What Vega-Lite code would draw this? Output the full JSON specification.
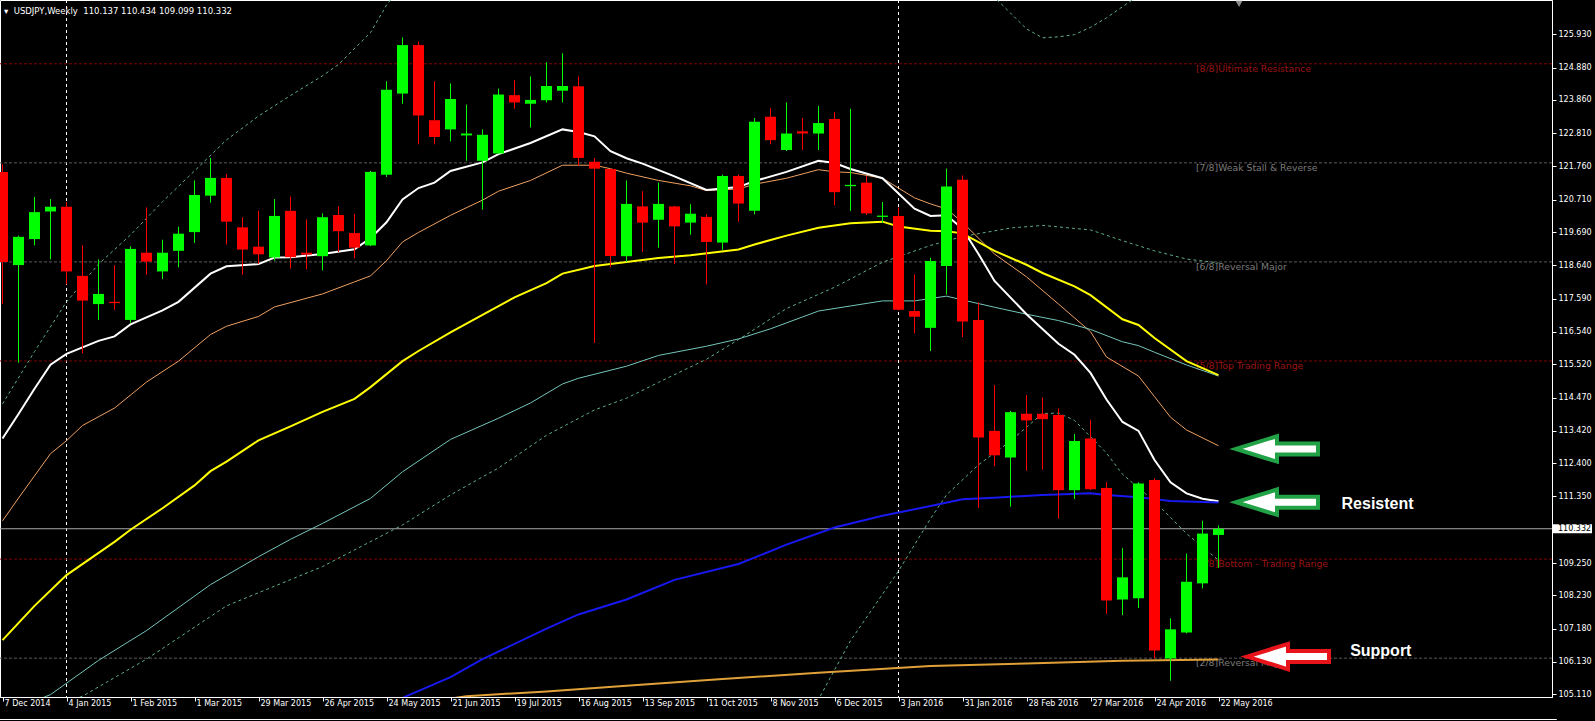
{
"$schema": "https://vega.github.io/schema/vega-lite/v6.json",
"width": 1552, "height": 697,
"autosize": {"type": "none"},
"padding": {"left": 0, "top": 0, "right": 43, "bottom": 24},
"background": "#000000",
"view": {"stroke": "#ffffff", "strokeWidth": 1, "fill": "#000000"},
"title": {"text": "▾\u00a0\u00a0USDJPY,Weekly\u00a0\u00a0110.137 110.434 109.099 110.332", "anchor": "start", "orient": "top", "frame": "group", "offset": -16, "dx": 4, "font": "DejaVu Sans", "fontSize": 8.5, "fontWeight": "normal", "color": "#ffffff", "baseline": "top"},
"config": {
  "axis": {"grid": false, "labelColor": "#ffffff", "labelFont": "DejaVu Sans", "labelFontSize": 8, "domainColor": "#ffffff", "tickColor": "#ffffff", "tickSize": 4, "labelOverlap": false, "labelBound": false, "labelFlush": false},
  "text": {"font": "DejaVu Sans"}
},
"encoding": {
  "x": {"field": "d", "type": "temporal", "title": null,
    "scale": {"type": "utc", "domain": [{"year":2014,"month":12,"date":5,"hours":21,"minutes":45,"utc":true},{"year":2016,"month":10,"date":14,"hours":21,"minutes":45,"utc":true}], "nice": false, "padding": 0},
    "axis": {"orient": "bottom", "title": null, "format": "%-d %b %Y", "labelAlign": "left", "labelOffset": 1.5, "labelPadding": -2, "tickSize": 4, "labelBaseline": "top",
      "values": [{"year":2014,"month":12,"date":7,"utc":true},{"year":2015,"month":1,"date":4,"utc":true},{"year":2015,"month":2,"date":1,"utc":true},{"year":2015,"month":3,"date":1,"utc":true},{"year":2015,"month":3,"date":29,"utc":true},{"year":2015,"month":4,"date":26,"utc":true},{"year":2015,"month":5,"date":24,"utc":true},{"year":2015,"month":6,"date":21,"utc":true},{"year":2015,"month":7,"date":19,"utc":true},{"year":2015,"month":8,"date":16,"utc":true},{"year":2015,"month":9,"date":13,"utc":true},{"year":2015,"month":10,"date":11,"utc":true},{"year":2015,"month":11,"date":8,"utc":true},{"year":2015,"month":12,"date":6,"utc":true},{"year":2016,"month":1,"date":3,"utc":true},{"year":2016,"month":1,"date":31,"utc":true},{"year":2016,"month":2,"date":28,"utc":true},{"year":2016,"month":3,"date":27,"utc":true},{"year":2016,"month":4,"date":24,"utc":true},{"year":2016,"month":5,"date":22,"utc":true}]}},
  "y": {"field": "p", "type": "quantitative", "title": null,
    "scale": {"domain": [105.025, 127.012], "zero": false, "nice": false},
    "axis": {"orient": "right", "title": null, "format": ".3f", "labelAlign": "left", "labelBaseline": "middle", "labelPadding": 2, "tickSize": 4,
      "values": [125.93, 124.88, 123.86, 122.81, 121.76, 120.71, 119.69, 118.64, 117.59, 116.54, 115.52, 114.47, 113.42, 112.4, 111.35, 109.25, 108.23, 107.18, 106.13, 105.11]}}
},
"datasets": {
  "seps": [{"d": "2015-01-04"}, {"d": "2016-01-03"}],
  "murrey": [
    {"p": 125.0, "k": "r", "name": "[8/8]Ultimate Resistance", "d": "2016-05-12T03:00:00Z"},
    {"p": 121.875, "k": "g", "name": "[7/8]Weak Stall & Reverse", "d": "2016-05-12T03:00:00Z"},
    {"p": 118.75, "k": "g", "name": "[6/8]Reversal Major", "d": "2016-05-12T03:00:00Z"},
    {"p": 115.625, "k": "r", "name": "[5/8]Top Trading Range", "d": "2016-05-12T03:00:00Z"},
    {"p": 109.375, "k": "r", "name": "[3/8]Bottom - Trading Range", "d": "2016-05-12T03:00:00Z"},
    {"p": 106.25, "k": "g", "name": "[2/8]Reversal Major", "d": "2016-05-12T03:00:00Z"}
  ],
  "last": [{"d": "2016-05-22", "p": 110.332}],
  "frame": [{"d": "2014-12-05T21:45:00Z", "d2": "2016-10-17T00:00:00Z", "p": 104.315}],
  "candles": [
    {"d":"2014-12-07","o":121.59,"h":121.83,"l":117.42,"c":118.75},
    {"d":"2014-12-14","o":118.65,"h":119.58,"l":115.57,"c":119.54},
    {"d":"2014-12-21","o":119.47,"h":120.80,"l":119.27,"c":120.32},
    {"d":"2014-12-28","o":120.34,"h":120.73,"l":118.83,"c":120.49},
    {"d":"2015-01-04","o":120.49,"h":120.64,"l":118.04,"c":118.45},
    {"d":"2015-01-11","o":118.31,"h":119.28,"l":115.87,"c":117.53},
    {"d":"2015-01-18","o":117.42,"h":118.83,"l":116.92,"c":117.74},
    {"d":"2015-01-25","o":117.49,"h":118.65,"l":117.24,"c":117.45},
    {"d":"2015-02-01","o":116.92,"h":119.24,"l":116.83,"c":119.16},
    {"d":"2015-02-08","o":119.04,"h":120.47,"l":118.34,"c":118.76},
    {"d":"2015-02-15","o":118.45,"h":119.45,"l":118.21,"c":119.04},
    {"d":"2015-02-22","o":119.10,"h":119.86,"l":118.58,"c":119.64},
    {"d":"2015-03-01","o":119.69,"h":121.32,"l":119.35,"c":120.86},
    {"d":"2015-03-08","o":120.84,"h":122.03,"l":120.62,"c":121.40},
    {"d":"2015-03-15","o":121.40,"h":121.53,"l":119.30,"c":120.02},
    {"d":"2015-03-22","o":119.84,"h":120.16,"l":118.34,"c":119.14},
    {"d":"2015-03-29","o":119.23,"h":120.36,"l":118.69,"c":118.99},
    {"d":"2015-04-05","o":118.89,"h":120.73,"l":118.79,"c":120.20},
    {"d":"2015-04-12","o":120.36,"h":120.81,"l":118.54,"c":118.90},
    {"d":"2015-04-19","o":119.04,"h":120.09,"l":118.52,"c":118.98},
    {"d":"2015-04-26","o":118.93,"h":120.28,"l":118.48,"c":120.16},
    {"d":"2015-05-03","o":120.23,"h":120.50,"l":119.06,"c":119.72},
    {"d":"2015-05-10","o":119.66,"h":120.27,"l":118.86,"c":119.20},
    {"d":"2015-05-17","o":119.27,"h":121.62,"l":119.25,"c":121.59},
    {"d":"2015-05-24","o":121.50,"h":124.45,"l":121.43,"c":124.18},
    {"d":"2015-05-31","o":124.06,"h":125.83,"l":123.74,"c":125.59},
    {"d":"2015-06-07","o":125.59,"h":125.70,"l":122.46,"c":123.37},
    {"d":"2015-06-14","o":123.22,"h":124.45,"l":122.46,"c":122.69},
    {"d":"2015-06-21","o":122.93,"h":124.38,"l":122.55,"c":123.89},
    {"d":"2015-06-28","o":122.74,"h":123.71,"l":121.94,"c":122.80},
    {"d":"2015-07-05","o":121.94,"h":122.93,"l":120.40,"c":122.76},
    {"d":"2015-07-12","o":122.17,"h":124.22,"l":122.15,"c":124.03},
    {"d":"2015-07-19","o":124.01,"h":124.49,"l":123.58,"c":123.78},
    {"d":"2015-07-26","o":123.74,"h":124.60,"l":122.99,"c":123.86},
    {"d":"2015-08-02","o":123.85,"h":125.05,"l":123.78,"c":124.30},
    {"d":"2015-08-09","o":124.15,"h":125.33,"l":123.78,"c":124.30},
    {"d":"2015-08-16","o":124.29,"h":124.60,"l":121.79,"c":122.03},
    {"d":"2015-08-23","o":121.91,"h":122.03,"l":116.19,"c":121.69},
    {"d":"2015-08-30","o":121.68,"h":121.70,"l":118.58,"c":118.94},
    {"d":"2015-09-06","o":118.93,"h":121.32,"l":118.75,"c":120.58},
    {"d":"2015-09-13","o":120.50,"h":120.98,"l":119.06,"c":119.99},
    {"d":"2015-09-20","o":120.08,"h":121.25,"l":119.20,"c":120.58},
    {"d":"2015-09-27","o":120.50,"h":120.52,"l":118.68,"c":119.87},
    {"d":"2015-10-04","o":119.99,"h":120.57,"l":119.61,"c":120.27},
    {"d":"2015-10-11","o":120.17,"h":120.25,"l":118.04,"c":119.38},
    {"d":"2015-10-18","o":119.36,"h":121.50,"l":119.13,"c":121.46},
    {"d":"2015-10-25","o":121.46,"h":121.50,"l":120.02,"c":120.59},
    {"d":"2015-11-01","o":120.36,"h":123.29,"l":120.25,"c":123.17},
    {"d":"2015-11-08","o":123.33,"h":123.60,"l":122.46,"c":122.59},
    {"d":"2015-11-15","o":122.28,"h":123.78,"l":122.25,"c":122.80},
    {"d":"2015-11-22","o":122.87,"h":123.29,"l":122.28,"c":122.80},
    {"d":"2015-11-29","o":122.80,"h":123.67,"l":122.28,"c":123.13},
    {"d":"2015-12-06","o":123.26,"h":123.48,"l":120.54,"c":120.95},
    {"d":"2015-12-13","o":121.14,"h":123.58,"l":120.36,"c":121.18},
    {"d":"2015-12-20","o":121.25,"h":121.46,"l":120.23,"c":120.28},
    {"d":"2015-12-27","o":120.17,"h":120.64,"l":119.98,"c":120.21},
    {"d":"2016-01-03","o":120.20,"h":120.47,"l":117.22,"c":117.24},
    {"d":"2016-01-10","o":117.20,"h":118.35,"l":116.50,"c":117.02},
    {"d":"2016-01-17","o":116.67,"h":118.88,"l":115.94,"c":118.78},
    {"d":"2016-01-24","o":118.62,"h":121.69,"l":117.72,"c":121.13},
    {"d":"2016-01-31","o":121.34,"h":121.48,"l":116.38,"c":116.87},
    {"d":"2016-02-07","o":116.92,"h":117.48,"l":110.99,"c":113.21},
    {"d":"2016-02-14","o":113.42,"h":114.87,"l":112.30,"c":112.65},
    {"d":"2016-02-21","o":112.58,"h":114.05,"l":111.03,"c":114.01},
    {"d":"2016-02-28","o":113.96,"h":114.55,"l":112.16,"c":113.75},
    {"d":"2016-03-06","o":113.96,"h":114.48,"l":112.20,"c":113.79},
    {"d":"2016-03-13","o":113.92,"h":114.13,"l":110.65,"c":111.55},
    {"d":"2016-03-20","o":111.55,"h":113.32,"l":111.27,"c":113.10},
    {"d":"2016-03-27","o":113.18,"h":113.77,"l":111.55,"c":111.58},
    {"d":"2016-04-03","o":111.62,"h":111.80,"l":107.65,"c":108.07},
    {"d":"2016-04-10","o":108.10,"h":109.72,"l":107.61,"c":108.80},
    {"d":"2016-04-17","o":108.14,"h":111.80,"l":107.83,"c":111.76},
    {"d":"2016-04-24","o":111.87,"h":111.92,"l":106.24,"c":106.49},
    {"d":"2016-05-01","o":106.24,"h":107.51,"l":105.54,"c":107.16},
    {"d":"2016-05-08","o":107.06,"h":109.55,"l":107.03,"c":108.66},
    {"d":"2016-05-15","o":108.61,"h":110.58,"l":108.45,"c":110.18},
    {"d":"2016-05-22","o":110.137,"h":110.434,"l":109.099,"c":110.332}
  ],
  "lines": [
    {"s":"white","d":"2014-12-07","p":113.18},{"s":"white","d":"2014-12-14","p":113.95},{"s":"white","d":"2014-12-21","p":114.75},{"s":"white","d":"2014-12-28","p":115.51},{"s":"white","d":"2015-01-04","p":115.85},{"s":"white","d":"2015-01-18","p":116.26},{"s":"white","d":"2015-01-25","p":116.40},{"s":"white","d":"2015-02-01","p":116.78},{"s":"white","d":"2015-02-15","p":117.22},{"s":"white","d":"2015-02-22","p":117.49},{"s":"white","d":"2015-03-08","p":118.38},{"s":"white","d":"2015-03-15","p":118.61},{"s":"white","d":"2015-03-29","p":118.68},{"s":"white","d":"2015-04-05","p":118.89},{"s":"white","d":"2015-04-12","p":118.90},{"s":"white","d":"2015-04-26","p":119.0},{"s":"white","d":"2015-05-10","p":119.15},{"s":"white","d":"2015-05-17","p":119.50},{"s":"white","d":"2015-05-24","p":120.0},{"s":"white","d":"2015-05-31","p":120.72},{"s":"white","d":"2015-06-07","p":121.08},{"s":"white","d":"2015-06-14","p":121.25},{"s":"white","d":"2015-06-21","p":121.62},{"s":"white","d":"2015-07-05","p":121.89},{"s":"white","d":"2015-07-12","p":122.15},{"s":"white","d":"2015-07-26","p":122.50},{"s":"white","d":"2015-08-09","p":122.93},{"s":"white","d":"2015-08-16","p":122.85},{"s":"white","d":"2015-08-23","p":122.71},{"s":"white","d":"2015-08-30","p":122.24},{"s":"white","d":"2015-09-06","p":122.02},{"s":"white","d":"2015-09-13","p":121.85},{"s":"white","d":"2015-09-27","p":121.45},{"s":"white","d":"2015-10-11","p":121.02},{"s":"white","d":"2015-10-25","p":121.11},{"s":"white","d":"2015-11-01","p":121.30},{"s":"white","d":"2015-11-15","p":121.59},{"s":"white","d":"2015-11-29","p":121.94},{"s":"white","d":"2015-12-06","p":121.87},{"s":"white","d":"2015-12-13","p":121.68},{"s":"white","d":"2015-12-27","p":121.39},{"s":"white","d":"2016-01-10","p":120.43},{"s":"white","d":"2016-01-17","p":120.20},{"s":"white","d":"2016-01-24","p":120.22},{"s":"white","d":"2016-01-31","p":119.80},{"s":"white","d":"2016-02-07","p":119.0},{"s":"white","d":"2016-02-14","p":118.15},{"s":"white","d":"2016-02-28","p":117.10},{"s":"white","d":"2016-03-13","p":116.17},{"s":"white","d":"2016-03-20","p":115.82},{"s":"white","d":"2016-03-27","p":115.25},{"s":"white","d":"2016-04-03","p":114.41},{"s":"white","d":"2016-04-10","p":113.70},{"s":"white","d":"2016-04-17","p":113.42},{"s":"white","d":"2016-04-24","p":112.50},{"s":"white","d":"2016-05-01","p":111.80},{"s":"white","d":"2016-05-08","p":111.45},{"s":"white","d":"2016-05-15","p":111.28},{"s":"white","d":"2016-05-22","p":111.20},
    {"s":"orange","d":"2014-12-07","p":110.58},{"s":"orange","d":"2014-12-14","p":111.30},{"s":"orange","d":"2014-12-21","p":112.00},{"s":"orange","d":"2014-12-28","p":112.70},{"s":"orange","d":"2015-01-04","p":113.11},{"s":"orange","d":"2015-01-11","p":113.59},{"s":"orange","d":"2015-01-25","p":114.14},{"s":"orange","d":"2015-02-08","p":114.96},{"s":"orange","d":"2015-02-22","p":115.62},{"s":"orange","d":"2015-03-08","p":116.46},{"s":"orange","d":"2015-03-15","p":116.72},{"s":"orange","d":"2015-03-29","p":117.03},{"s":"orange","d":"2015-04-05","p":117.33},{"s":"orange","d":"2015-04-26","p":117.74},{"s":"orange","d":"2015-05-10","p":118.12},{"s":"orange","d":"2015-05-17","p":118.31},{"s":"orange","d":"2015-05-24","p":118.79},{"s":"orange","d":"2015-05-31","p":119.38},{"s":"orange","d":"2015-06-07","p":119.68},{"s":"orange","d":"2015-06-21","p":120.22},{"s":"orange","d":"2015-07-05","p":120.70},{"s":"orange","d":"2015-07-12","p":120.98},{"s":"orange","d":"2015-07-26","p":121.32},{"s":"orange","d":"2015-08-09","p":121.80},{"s":"orange","d":"2015-08-23","p":121.80},{"s":"orange","d":"2015-08-30","p":121.69},{"s":"orange","d":"2015-09-06","p":121.55},{"s":"orange","d":"2015-09-20","p":121.32},{"s":"orange","d":"2015-10-04","p":121.15},{"s":"orange","d":"2015-10-11","p":121.00},{"s":"orange","d":"2015-10-25","p":121.05},{"s":"orange","d":"2015-11-01","p":121.20},{"s":"orange","d":"2015-11-15","p":121.39},{"s":"orange","d":"2015-11-29","p":121.66},{"s":"orange","d":"2015-12-06","p":121.59},{"s":"orange","d":"2015-12-13","p":121.57},{"s":"orange","d":"2015-12-27","p":121.39},{"s":"orange","d":"2016-01-10","p":120.77},{"s":"orange","d":"2016-01-17","p":120.58},{"s":"orange","d":"2016-01-24","p":120.42},{"s":"orange","d":"2016-01-31","p":120.00},{"s":"orange","d":"2016-02-14","p":119.00},{"s":"orange","d":"2016-02-28","p":118.28},{"s":"orange","d":"2016-03-13","p":117.42},{"s":"orange","d":"2016-03-27","p":116.55},{"s":"orange","d":"2016-04-03","p":115.75},{"s":"orange","d":"2016-04-17","p":115.15},{"s":"orange","d":"2016-04-24","p":114.50},{"s":"orange","d":"2016-05-01","p":113.85},{"s":"orange","d":"2016-05-08","p":113.45},{"s":"orange","d":"2016-05-22","p":112.95},
    {"s":"yellow","d":"2014-12-07","p":106.82},{"s":"yellow","d":"2014-12-21","p":107.90},{"s":"yellow","d":"2015-01-04","p":108.87},{"s":"yellow","d":"2015-01-25","p":109.92},{"s":"yellow","d":"2015-02-01","p":110.30},{"s":"yellow","d":"2015-02-15","p":110.98},{"s":"yellow","d":"2015-03-01","p":111.70},{"s":"yellow","d":"2015-03-08","p":112.15},{"s":"yellow","d":"2015-03-15","p":112.45},{"s":"yellow","d":"2015-03-29","p":113.12},{"s":"yellow","d":"2015-04-12","p":113.56},{"s":"yellow","d":"2015-04-26","p":114.02},{"s":"yellow","d":"2015-05-10","p":114.43},{"s":"yellow","d":"2015-05-17","p":114.80},{"s":"yellow","d":"2015-05-31","p":115.62},{"s":"yellow","d":"2015-06-07","p":115.94},{"s":"yellow","d":"2015-06-21","p":116.53},{"s":"yellow","d":"2015-07-05","p":117.08},{"s":"yellow","d":"2015-07-19","p":117.63},{"s":"yellow","d":"2015-08-02","p":118.08},{"s":"yellow","d":"2015-08-09","p":118.38},{"s":"yellow","d":"2015-08-23","p":118.62},{"s":"yellow","d":"2015-09-06","p":118.75},{"s":"yellow","d":"2015-09-20","p":118.87},{"s":"yellow","d":"2015-10-04","p":118.96},{"s":"yellow","d":"2015-10-25","p":119.14},{"s":"yellow","d":"2015-11-01","p":119.30},{"s":"yellow","d":"2015-11-15","p":119.58},{"s":"yellow","d":"2015-11-29","p":119.83},{"s":"yellow","d":"2015-12-13","p":119.97},{"s":"yellow","d":"2015-12-27","p":120.02},{"s":"yellow","d":"2016-01-03","p":119.87},{"s":"yellow","d":"2016-01-17","p":119.73},{"s":"yellow","d":"2016-01-24","p":119.72},{"s":"yellow","d":"2016-01-31","p":119.65},{"s":"yellow","d":"2016-02-14","p":119.10},{"s":"yellow","d":"2016-02-28","p":118.66},{"s":"yellow","d":"2016-03-06","p":118.40},{"s":"yellow","d":"2016-03-20","p":117.98},{"s":"yellow","d":"2016-03-27","p":117.70},{"s":"yellow","d":"2016-04-10","p":116.94},{"s":"yellow","d":"2016-04-17","p":116.76},{"s":"yellow","d":"2016-04-24","p":116.35},{"s":"yellow","d":"2016-05-08","p":115.62},{"s":"yellow","d":"2016-05-22","p":115.18},
    {"s":"teal","d":"2014-12-07","p":104.50},{"s":"teal","d":"2014-12-28","p":105.10},{"s":"teal","d":"2015-01-18","p":106.18},{"s":"teal","d":"2015-02-08","p":107.12},{"s":"teal","d":"2015-03-08","p":108.57},{"s":"teal","d":"2015-03-29","p":109.45},{"s":"teal","d":"2015-04-12","p":110.00},{"s":"teal","d":"2015-04-26","p":110.50},{"s":"teal","d":"2015-05-17","p":111.29},{"s":"teal","d":"2015-05-31","p":112.13},{"s":"teal","d":"2015-06-21","p":113.15},{"s":"teal","d":"2015-07-12","p":113.82},{"s":"teal","d":"2015-07-26","p":114.30},{"s":"teal","d":"2015-08-09","p":114.90},{"s":"teal","d":"2015-08-16","p":115.08},{"s":"teal","d":"2015-09-06","p":115.46},{"s":"teal","d":"2015-09-20","p":115.80},{"s":"teal","d":"2015-10-11","p":116.09},{"s":"teal","d":"2015-10-25","p":116.32},{"s":"teal","d":"2015-11-08","p":116.64},{"s":"teal","d":"2015-11-29","p":117.20},{"s":"teal","d":"2015-12-27","p":117.52},{"s":"teal","d":"2016-01-10","p":117.52},{"s":"teal","d":"2016-01-24","p":117.67},{"s":"teal","d":"2016-01-31","p":117.55},{"s":"teal","d":"2016-02-14","p":117.32},{"s":"teal","d":"2016-02-28","p":117.10},{"s":"teal","d":"2016-03-13","p":116.90},{"s":"teal","d":"2016-03-27","p":116.62},{"s":"teal","d":"2016-04-10","p":116.23},{"s":"teal","d":"2016-04-17","p":116.11},{"s":"teal","d":"2016-04-24","p":115.90},{"s":"teal","d":"2016-05-08","p":115.50},{"s":"teal","d":"2016-05-22","p":115.15},
    {"s":"blue","d":"2015-05-17","p":104.50},{"s":"blue","d":"2015-05-31","p":105.00},{"s":"blue","d":"2015-06-21","p":105.65},{"s":"blue","d":"2015-07-05","p":106.22},{"s":"blue","d":"2015-08-02","p":107.18},{"s":"blue","d":"2015-08-16","p":107.63},{"s":"blue","d":"2015-09-06","p":108.10},{"s":"blue","d":"2015-09-27","p":108.72},{"s":"blue","d":"2015-10-25","p":109.22},{"s":"blue","d":"2015-11-15","p":109.83},{"s":"blue","d":"2015-12-06","p":110.37},{"s":"blue","d":"2015-12-27","p":110.74},{"s":"blue","d":"2016-01-17","p":111.05},{"s":"blue","d":"2016-01-31","p":111.26},{"s":"blue","d":"2016-02-14","p":111.31},{"s":"blue","d":"2016-03-06","p":111.40},{"s":"blue","d":"2016-03-27","p":111.45},{"s":"blue","d":"2016-04-03","p":111.40},{"s":"blue","d":"2016-04-17","p":111.33},{"s":"blue","d":"2016-05-01","p":111.21},{"s":"blue","d":"2016-05-22","p":111.16},
    {"s":"gold","d":"2015-06-14","p":104.90},{"s":"gold","d":"2015-06-28","p":105.05},{"s":"gold","d":"2015-08-02","p":105.20},{"s":"gold","d":"2015-09-06","p":105.38},{"s":"gold","d":"2015-10-18","p":105.59},{"s":"gold","d":"2015-11-29","p":105.79},{"s":"gold","d":"2016-01-17","p":106.00},{"s":"gold","d":"2016-02-28","p":106.08},{"s":"gold","d":"2016-04-10","p":106.17},{"s":"gold","d":"2016-05-22","p":106.21},
    {"s":"bbUp1","d":"2014-12-07","p":114.27},{"s":"bbUp1","d":"2014-12-21","p":115.92},{"s":"bbUp1","d":"2015-01-04","p":117.49},{"s":"bbUp1","d":"2015-01-18","p":118.68},{"s":"bbUp1","d":"2015-02-01","p":119.60},{"s":"bbUp1","d":"2015-02-15","p":120.65},{"s":"bbUp1","d":"2015-03-01","p":121.62},{"s":"bbUp1","d":"2015-03-15","p":122.60},{"s":"bbUp1","d":"2015-03-29","p":123.35},{"s":"bbUp1","d":"2015-04-12","p":124.00},{"s":"bbUp1","d":"2015-04-26","p":124.62},{"s":"bbUp1","d":"2015-05-03","p":124.98},{"s":"bbUp1","d":"2015-05-17","p":125.98},{"s":"bbUp1","d":"2015-05-24","p":126.85},{"s":"bbUp1","d":"2015-05-31","p":127.50},
    {"s":"bbUp2","d":"2016-02-07","p":127.50},{"s":"bbUp2","d":"2016-02-14","p":127.10},{"s":"bbUp2","d":"2016-02-21","p":126.60},{"s":"bbUp2","d":"2016-02-28","p":126.10},{"s":"bbUp2","d":"2016-03-06","p":125.82},{"s":"bbUp2","d":"2016-03-13","p":125.85},{"s":"bbUp2","d":"2016-03-20","p":125.92},{"s":"bbUp2","d":"2016-03-27","p":126.15},{"s":"bbUp2","d":"2016-04-03","p":126.45},{"s":"bbUp2","d":"2016-04-10","p":126.80},{"s":"bbUp2","d":"2016-04-17","p":127.15},{"s":"bbUp2","d":"2016-04-24","p":127.50},
    {"s":"env","d":"2014-12-21","p":104.50},{"s":"env","d":"2015-01-11","p":105.05},{"s":"env","d":"2015-02-08","p":106.22},{"s":"env","d":"2015-03-15","p":107.90},{"s":"env","d":"2015-04-26","p":109.14},{"s":"env","d":"2015-05-31","p":110.45},{"s":"env","d":"2015-06-21","p":111.40},{"s":"env","d":"2015-07-12","p":112.25},{"s":"env","d":"2015-08-02","p":113.28},{"s":"env","d":"2015-08-23","p":114.08},{"s":"env","d":"2015-09-06","p":114.45},{"s":"env","d":"2015-09-20","p":114.95},{"s":"env","d":"2015-10-11","p":115.68},{"s":"env","d":"2015-10-25","p":116.30},{"s":"env","d":"2015-11-15","p":117.28},{"s":"env","d":"2015-12-06","p":117.95},{"s":"env","d":"2015-12-27","p":118.74},{"s":"env","d":"2016-01-17","p":119.27},{"s":"env","d":"2016-01-31","p":119.55},{"s":"env","d":"2016-02-21","p":119.82},{"s":"env","d":"2016-03-06","p":119.90},{"s":"env","d":"2016-03-27","p":119.76},{"s":"env","d":"2016-04-10","p":119.42},{"s":"env","d":"2016-04-24","p":119.10},{"s":"env","d":"2016-05-08","p":118.84},{"s":"env","d":"2016-05-22","p":118.72},
    {"s":"bbLow","d":"2015-11-22","p":104.30},{"s":"bbLow","d":"2015-11-29","p":104.95},{"s":"bbLow","d":"2015-12-13","p":106.80},{"s":"bbLow","d":"2016-01-03","p":109.00},{"s":"bbLow","d":"2016-01-17","p":110.65},{"s":"bbLow","d":"2016-01-24","p":111.40},{"s":"bbLow","d":"2016-02-07","p":112.35},{"s":"bbLow","d":"2016-02-21","p":113.10},{"s":"bbLow","d":"2016-03-06","p":113.97},{"s":"bbLow","d":"2016-03-13","p":113.98},{"s":"bbLow","d":"2016-03-20","p":113.75},{"s":"bbLow","d":"2016-04-03","p":112.72},{"s":"bbLow","d":"2016-04-10","p":112.05},{"s":"bbLow","d":"2016-04-17","p":111.62},{"s":"bbLow","d":"2016-04-24","p":111.20},{"s":"bbLow","d":"2016-05-08","p":110.18},{"s":"bbLow","d":"2016-05-22","p":109.34}
  ],
  "arrows": [
    {"d": "2016-06-16T14:00:00Z", "p": 112.85, "c": "g"},
    {"d": "2016-06-16T14:00:00Z", "p": 111.17, "c": "g"},
    {"d": "2016-06-21T10:00:00Z", "p": 106.30, "c": "r"}
  ],
  "notes": [
    {"d": "2016-07-30T14:00:00Z", "p": 111.10, "t": "Resistent"},
    {"d": "2016-08-01T00:00:00Z", "p": 106.475, "t": "Support"}
  ],
  "marker": [{"d": "2016-05-31", "p": 126.89}]
},
"layer": [
  {"data": {"name": "seps"},
   "mark": {"type": "rule", "color": "#ffffff", "strokeDash": [3, 3], "strokeWidth": 1},
   "encoding": {"y": null}},
  {"data": {"name": "murrey"},
   "mark": {"type": "rule", "strokeDash": [3, 2], "strokeWidth": 1},
   "encoding": {"x": null,
     "color": {"condition": {"test": "datum.k === 'r'", "value": "#800000"}, "value": "#5a5a5a"}}},
  {"data": {"name": "murrey"},
   "mark": {"type": "text", "align": "left", "baseline": "top", "dy": 1, "fontSize": 9.3, "font": "DejaVu Sans"},
   "encoding": {
     "text": {"field": "name"},
     "color": {"condition": {"test": "datum.k === 'r'", "value": "#9a1414"}, "value": "#7a7a7a"}}},
  {"data": {"name": "last"},
   "mark": {"type": "rule", "color": "#a8a8a8", "strokeWidth": 1},
   "encoding": {"x": null}},
  {"data": {"name": "lines"},
   "transform": [{"filter": {"field": "s", "oneOf": ["bbUp1", "bbUp2", "env", "bbLow"]}}],
   "mark": {"type": "line", "clip": true, "strokeDash": [3, 3], "strokeWidth": 1, "color": "#5fae86"},
   "encoding": {"detail": {"field": "s"}}},
  {"data": {"name": "lines"},
   "transform": [{"filter": {"field": "s", "oneOf": ["orange", "teal"]}}],
   "mark": {"type": "line", "clip": true, "strokeWidth": 1},
   "encoding": {
     "color": {"field": "s", "type": "nominal", "legend": null, "scale": {"domain": ["orange", "teal", "gold", "blue", "yellow", "white"], "range": ["#f0a060", "#74c6bc", "#e0a038", "#1818f0", "#ffff00", "#ffffff"]}}}},
  {"data": {"name": "lines"},
   "transform": [{"filter": {"field": "s", "oneOf": ["gold", "blue", "yellow", "white"]}}],
   "mark": {"type": "line", "clip": true, "strokeWidth": 2},
   "encoding": {
     "color": {"field": "s", "type": "nominal", "legend": null, "scale": {"domain": ["orange", "teal", "gold", "blue", "yellow", "white"], "range": ["#f0a060", "#74c6bc", "#e0a038", "#1818f0", "#ffff00", "#ffffff"]}}}},
  {"data": {"name": "candles"},
   "mark": {"type": "rule", "strokeWidth": 1},
   "encoding": {
     "y": {"field": "l", "type": "quantitative"},
     "y2": {"field": "h"},
     "color": {"condition": {"test": "datum.c >= datum.o", "value": "#00ff00"}, "value": "#ff0000"}}},
  {"data": {"name": "candles"},
   "mark": {"type": "bar", "width": 11, "clip": true},
   "encoding": {
     "y": {"field": "o", "type": "quantitative"},
     "y2": {"field": "c"},
     "color": {"condition": {"test": "datum.c >= datum.o", "value": "#00ff00"}, "value": "#ff0000"}}},
  {"data": {"name": "arrows"},
   "mark": {"type": "point", "shape": "M-1,0L0,-0.31L0,-0.134L1,-0.134L1,0.134L0,0.134L0,0.31Z", "size": 6724, "filled": false, "fill": "#ffffff", "fillOpacity": 1, "strokeWidth": 4, "strokeOpacity": 1, "opacity": 1, "strokeJoin": "miter"},
   "encoding": {
     "stroke": {"condition": {"test": "datum.c === 'r'", "value": "#e8141c"}, "value": "#22a246"}}},
  {"data": {"name": "notes"},
   "mark": {"type": "text", "font": "Liberation Sans", "fontWeight": "bold", "fontSize": 16, "color": "#ffffff", "align": "center", "baseline": "middle"},
   "encoding": {"text": {"field": "t"}}},
  {"data": {"name": "last"},
   "mark": {"type": "point", "shape": "M0.025,-0.11L1,-0.11L1,0.11L0.025,0.11Z", "size": 6400, "filled": true, "color": "#ffffff", "opacity": 1, "strokeWidth": 0},
   "encoding": {
     "x": {"datum": {"year":2016,"month":10,"date":14,"hours":21,"minutes":45,"utc":true}, "type": "temporal"}}},
  {"data": {"name": "last"},
   "mark": {"type": "text", "align": "left", "baseline": "middle", "dx": 6, "fontSize": 8, "font": "DejaVu Sans", "color": "#000000"},
   "encoding": {
     "x": {"datum": {"year":2016,"month":10,"date":14,"hours":21,"minutes":45,"utc":true}, "type": "temporal"},
     "text": {"field": "p", "format": ".3f"}}},
  {"data": {"name": "marker"},
   "mark": {"type": "point", "shape": "triangle-down", "size": 50, "filled": true, "color": "#8c8c8c", "opacity": 1}},
  {"data": {"name": "frame"},
   "mark": {"type": "rule", "color": "#ffffff", "strokeWidth": 1},
   "encoding": {"x2": {"field": "d2"}}}
]
}
